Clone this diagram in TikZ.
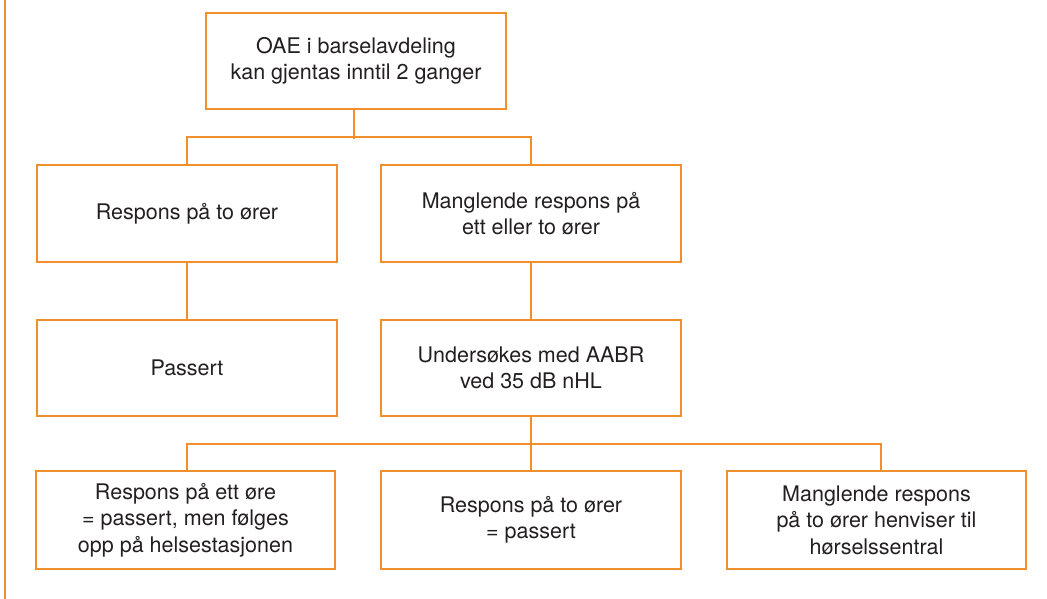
\documentclass[tikz,border=0pt]{standalone}
\usepackage{fontspec}
\setmainfont{TeX Gyre Heros}
\definecolor{orangeline}{RGB}{241,143,44}
\definecolor{textgray}{RGB}{35,31,32}
\tikzset{
  box/.style={draw=orangeline, line width=2.2pt, rectangle, fill=white,
    minimum width=300pt, align=center, inner sep=0pt, text=textgray,
    font=\fontsize{21.5}{26.5}\selectfont},
  conn/.style={draw=orangeline, line width=2pt}
}
\begin{document}
\begin{tikzpicture}[x=1pt,y=-1pt]
\useasboundingbox (0,0) rectangle (1047,599);
\fill[white] (0,0) rectangle (1047,599);
% left rule
\coordinate (ltop) at (5,0);
\coordinate (lbot) at (5,599);
\draw[conn] (ltop) -- (lbot);
% boxes
\node[box, minimum height=96pt] (top) at (356,61) {OAE i barselavdeling\\kan gjentas inntil 2 ganger};
\node[box, minimum height=97pt] (r2l) at (187,213.5) {Respons på to ører};
\node[box, minimum height=97pt] (r2r) at (531,213.5) {Manglende respons på\\ett eller to ører};
\node[box, minimum height=96pt] (r3l) at (187,368) {Passert};
\node[box, minimum height=96pt] (r3r) at (531,368) {Undersøkes med AABR\\ved 35 dB nHL};
\node[box, minimum width=299pt, minimum height=98pt] (b1) at (185.5,520) {Respons på ett øre\\= passert, men følges\\opp på helsestasjonen};
\node[box, minimum height=98pt] (b2) at (531,520) {Respons på to ører\\= passert};
\node[box, minimum width=299pt, minimum height=98pt] (b3) at (876.5,520) {Manglende respons\\på to ører henviser til\\hørselssentral};
% connectors
\draw[conn] ([xshift=-2pt]top.south) -- ++(0,29);
\draw[conn] (r2l.north) -- ++(0,-27) -| (r2r.north);
\draw[conn] (r2l.south) -- (r3l.north);
\draw[conn] (r2r.south) -- (r3r.north);
\draw[conn] (r3r.south) -- (b2.north);
\draw[conn] ([xshift=1.5pt]b1.north) -- ++(0,-26) -| ([xshift=4.5pt]b3.north);
\end{tikzpicture}
\end{document}
